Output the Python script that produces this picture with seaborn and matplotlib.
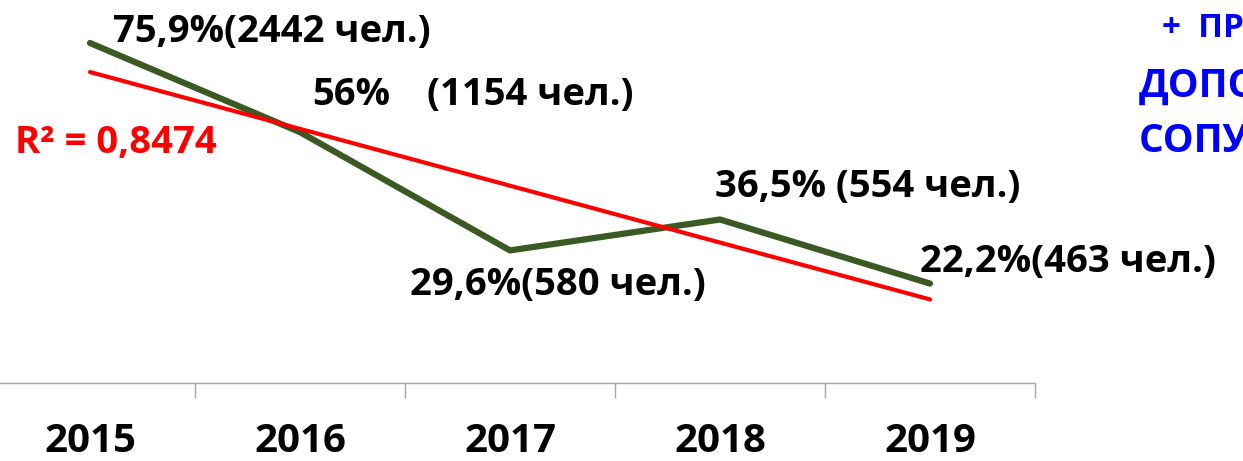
import matplotlib
matplotlib.use("Agg")
import matplotlib.pyplot as plt
import seaborn as sns
import pandas as pd
import numpy as np

# data
years = ["2015", "2016", "2017", "2018", "2019"]
share_pct = [75.9, 56.0, 29.6, 36.5, 22.2]
people = [2442, 1154, 580, 554, 463]
point_labels = ["75,9%(2442 чел.)", "56%", "29,6%(580 чел.)", "36,5% (554 чел.)", "22,2%(463 чел.)"]
r2_label = "R² = 0,8474"
side_lines = ["+  ПРИ", "ДОПОЛНИТЕЛЬНЫХ", "СОПУТСТВУЮЩИХ"]

GREEN = "#3B5A23"
RED = "#FF0000"
BLUE = "#0000FF"

sns.set_theme(style="white")
plt.rcParams["font.family"] = ["Open Sans", "DejaVu Sans"]

W, H = 1243, 461
fig = plt.figure(figsize=(W / 100, H / 100), dpi=100)
ax = fig.add_axes([0, 78 / H, 1035 / W, 383 / H])

df = pd.DataFrame({"idx": np.arange(len(years)), "share": share_pct})
sns.lineplot(data=df, x="idx", y="share", color=GREEN, linewidth=4.5, ax=ax,
             solid_capstyle="round")
sns.regplot(data=df, x="idx", y="share", ci=None, scatter=False, truncate=True,
            line_kws={"color": RED, "linewidth": 3, "solid_capstyle": "round"}, ax=ax)

ax.set_xlim(-0.5 + 15 / 210, 4.5)
ax.set_ylim(0, 85.5)
ax.set_xticks(range(len(years)))
ax.set_xticklabels(years)
ax.tick_params(axis="x", which="major", length=0, pad=28, labelsize=29,
               labelcolor="black")
for lab in ax.get_xticklabels():
    lab.set_fontweight("bold")
ax.set_xticks(np.arange(0.5, 5, 1), minor=True)
ax.tick_params(axis="x", which="minor", length=11, width=1, color="#A6A6A6",
               direction="out", bottom=True)
ax.set_yticks([])
ax.set_xlabel("")
ax.set_ylabel("")
for side in ["top", "right", "left"]:
    ax.spines[side].set_visible(False)
ax.spines["bottom"].set_color("#A6A6A6")
ax.spines["bottom"].set_linewidth(1)
ax.patch.set_alpha(0)


def ftext(xp, yp, s, **kw):
    fig.text(xp / W, 1 - yp / H, s, va="baseline", ha="left", fontweight="bold", **kw)


LBL = 27.5
# data labels (pixel positions of the text baselines)
ftext(113, 42, point_labels[0], fontsize=LBL, color="black")
ftext(312, 105, point_labels[1], fontsize=LBL, color="black")
ftext(427, 105, "(1154 чел.)", fontsize=LBL, color="black")
ftext(715, 197, point_labels[3], fontsize=LBL, color="black")
ftext(410, 295, point_labels[2], fontsize=LBL, color="black")
ftext(920, 272, point_labels[4], fontsize=LBL, color="black")
ftext(15, 153, r2_label, fontsize=LBL, color=RED)

# blue side note, cut off at the right edge
ftext(1162, 37, side_lines[0], fontsize=24, color=BLUE)
ftext(1139, 97, side_lines[1], fontsize=28, color=BLUE)
ftext(1139, 152, side_lines[2], fontsize=28, color=BLUE)

fig.savefig("out.png", dpi=100)
